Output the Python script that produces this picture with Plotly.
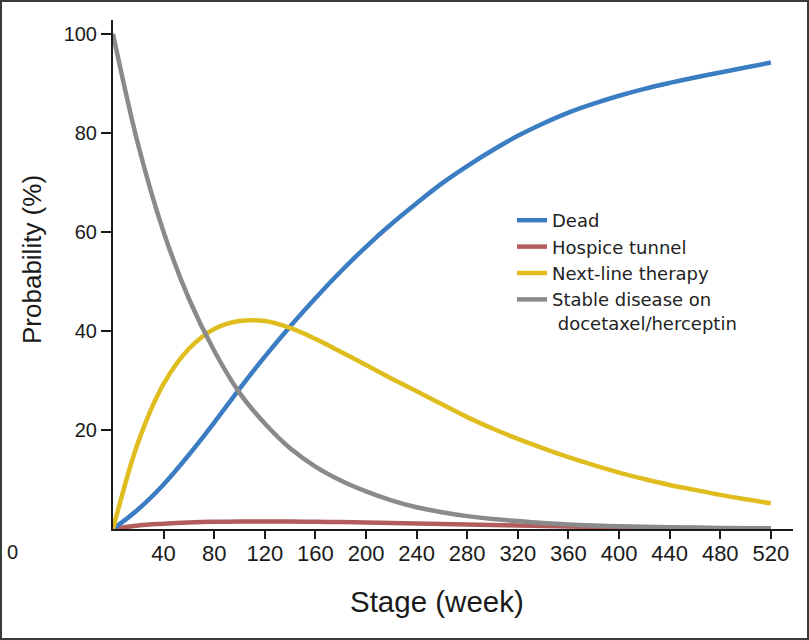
import plotly.graph_objects as go

# Stage (week) sample points
weeks = [0, 20, 40, 60, 80, 100, 120, 140, 160, 180, 200, 220, 240, 260,
         280, 300, 320, 340, 360, 380, 400, 420, 440, 460, 480, 500, 520]

dead = [0, 4, 9, 15, 21.5, 28.3, 34.8, 40.9, 46.6, 52, 57, 61.6, 65.8, 69.8,
        73.3, 76.5, 79.4, 81.9, 84.1, 85.9, 87.5, 88.9, 90.1, 91.2, 92.2, 93.2, 94.2]
hospice = [0, 0.7, 1.05, 1.3, 1.45, 1.5, 1.5, 1.5, 1.45, 1.4, 1.3, 1.2, 1.1, 1.0,
           0.9, 0.8, 0.7, 0.6, 0.5, 0.42, 0.35, 0.3, 0.25, 0.2, 0.15, 0.12, 0.1]
next_line = [0, 17.6, 29.3, 36.4, 40.4, 42.0, 42.0, 40.6, 38.4, 35.8, 33.1, 30.4, 27.8, 25.2,
             22.6, 20.3, 18.2, 16.3, 14.5, 12.9, 11.4, 10.1, 8.9, 7.9, 6.9, 6.0, 5.2]
stable = [100, 77.5, 60, 46.5, 36, 27.5, 21.3, 16.3, 12.6, 9.8, 7.6, 5.8, 4.4, 3.4,
          2.6, 2.0, 1.6, 1.2, 0.9, 0.7, 0.55, 0.45, 0.35, 0.28, 0.22, 0.17, 0.13]

x_ticks = [40, 80, 120, 160, 200, 240, 280, 320, 360, 400, 440, 480, 520]
y_ticks = [20, 40, 60, 80, 100]

names = ["Dead", "Hospice tunnel", "Next-line therapy", "Stable disease on<br> docetaxel/herceptin"]
colors = ["#3b7dc3", "#b35c5c", "#e0bd1f", "#8a8a8a"]
series = [dead, hospice, next_line, stable]
draw_order = [1, 0, 2, 3]

fig = go.Figure()
for i in draw_order:
    fig.add_trace(go.Scatter(
        x=weeks, y=series[i], name=names[i], mode="lines",
        line=dict(color=colors[i], width=4.5, shape="spline", smoothing=1.0),
        legendrank=i + 1, cliponaxis=False,
    ))

L, R, T, B = 113, 16, 20, 111
W, H = 809, 640
pw, ph = W - L - R, H - T - B

def px_x(px):
    return (px - L) / pw

def px_y(py):
    return (H - B - py) / ph

sans = "Liberation Sans, Arial, sans-serif"
legend_font = "DejaVu Sans, sans-serif"

fig.update_layout(
    width=W, height=H,
    margin=dict(l=L, r=R, t=T, b=B),
    paper_bgcolor="white", plot_bgcolor="white",
    showlegend=True,
    legend=dict(
        x=px_x(512), y=px_y(202), xanchor="left", yanchor="top",
        font=dict(family=legend_font, size=18, color="#222222"),
        bgcolor="rgba(0,0,0,0)", valign="top", traceorder="normal",
    ),
    xaxis=dict(
        range=[0, 537.5], tickvals=x_ticks, ticktext=[str(v) for v in x_ticks],
        showgrid=False, zeroline=False, showline=True, linecolor="#1a1a1a", linewidth=2,
        ticks="outside", ticklen=8, tickwidth=2, tickcolor="#1a1a1a",
        tickfont=dict(family=sans, size=22, color="#1a1a1a"),
        ticklabelstandoff=-4,
    ),
    yaxis=dict(
        range=[0, 102.8], tickvals=y_ticks, ticktext=[str(v) for v in y_ticks],
        showgrid=False, zeroline=False, showline=True, linecolor="#1a1a1a", linewidth=2,
        ticks="outside", ticklen=10, tickwidth=2, tickcolor="#1a1a1a",
        tickfont=dict(family=sans, size=20, color="#1a1a1a"),
    ),
    annotations=[
        dict(text="Probability (%)", x=px_x(32), y=px_y(260), xref="paper", yref="paper",
             showarrow=False, textangle=-90, font=dict(family=sans, size=26, color="#1a1a1a"),
             xanchor="center", yanchor="middle"),
        dict(text="Stage (week)", x=px_x(437), y=px_y(601), xref="paper", yref="paper",
             showarrow=False, font=dict(family=sans, size=29.5, color="#1a1a1a"),
             xanchor="center", yanchor="middle"),
        dict(text="0", x=px_x(12), y=px_y(552), xref="paper", yref="paper",
             showarrow=False, font=dict(family=sans, size=20, color="#1a1a1a"),
             xanchor="center", yanchor="middle"),
    ],
    shapes=[
        dict(type="rect", xref="paper", yref="paper",
             x0=px_x(1), x1=px_x(808), y0=px_y(639), y1=px_y(1),
             line=dict(color="#3a3a3a", width=2), fillcolor="rgba(0,0,0,0)", layer="below"),
    ],
)

fig.write_html("out.html", config={"displayModeBar": False},
               post_script="document.body.style.margin='0px';")
